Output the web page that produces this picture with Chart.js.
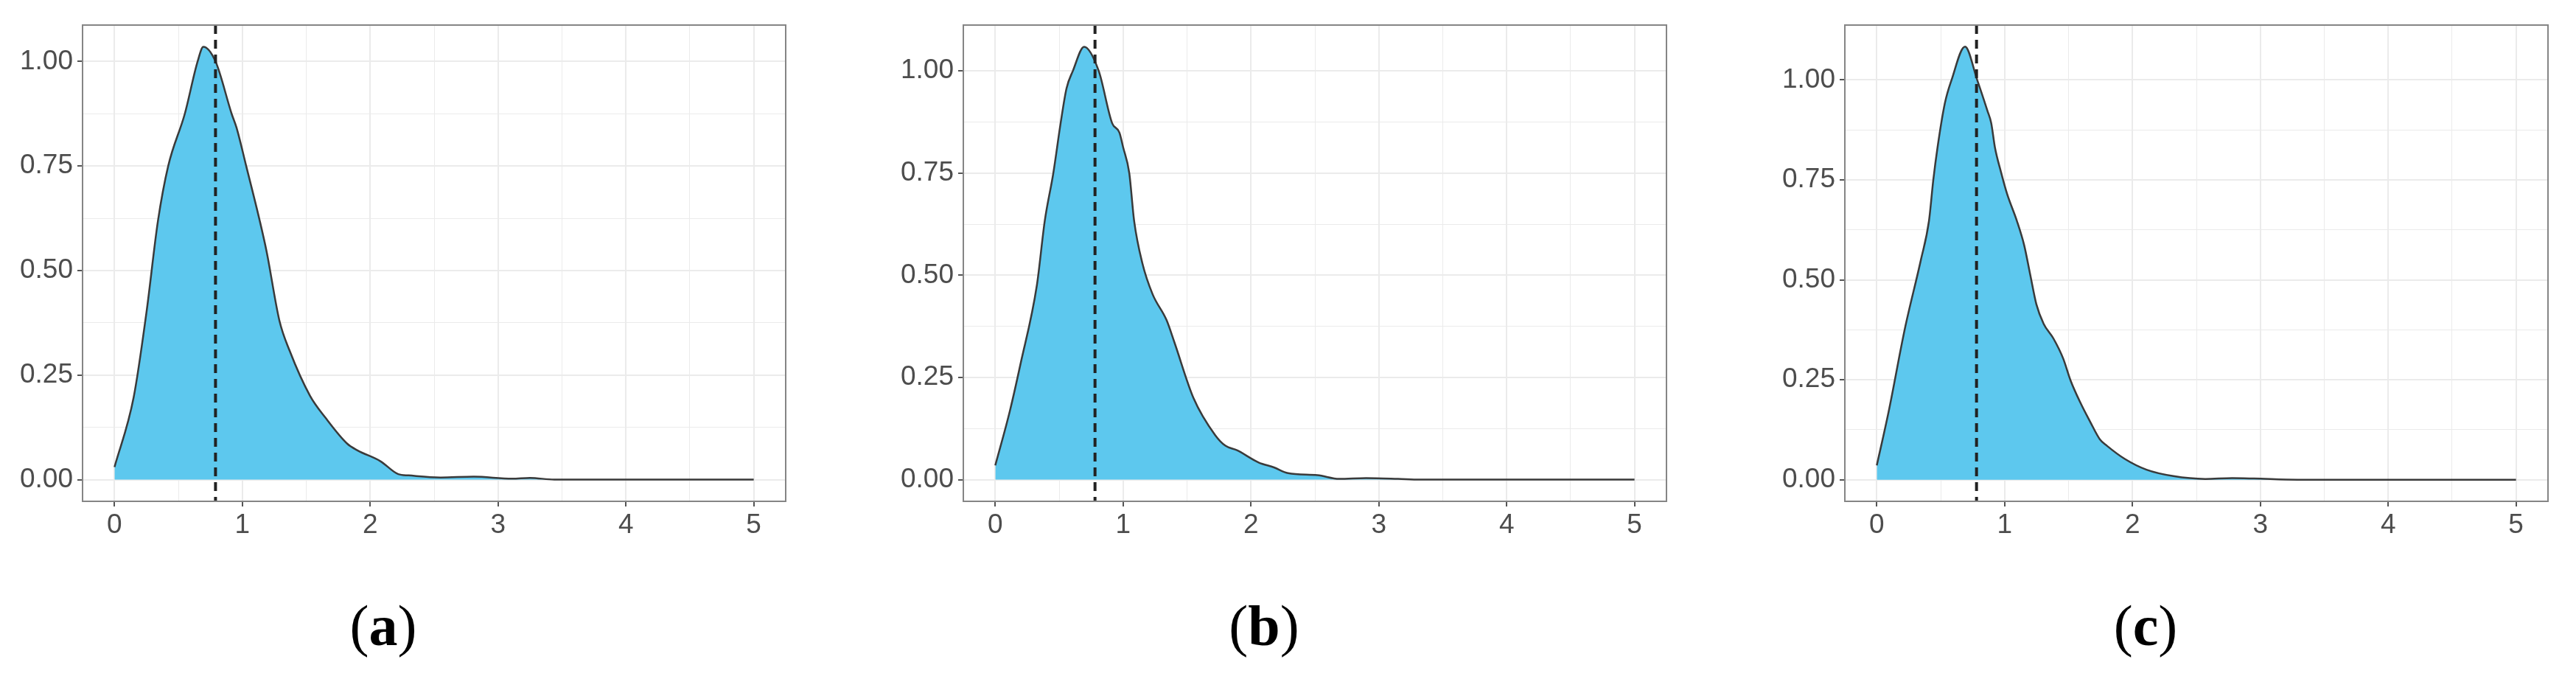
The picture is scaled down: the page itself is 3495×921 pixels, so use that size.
<!DOCTYPE html>
<html>
<head>
<meta charset="utf-8">
<script src="https://cdn.jsdelivr.net/npm/chart.js@4.4.1/dist/chart.umd.min.js"></script>
<style>
  html, body { margin: 0; padding: 0; background: #fff; }
  body { width: 3495px; height: 921px; position: relative; overflow: hidden; }
  .panel { position: absolute; top: 0; width: 1100px; height: 770px; }
  .tag { position: absolute; top: 810px; width: 200px; margin-left: -100px; text-align: center;
         font-family: 'Liberation Serif', 'DejaVu Serif', serif; font-size: 78px; line-height: 78px; color: #000; }
</style>
</head>
<body>
<div class="panel" style="left:0px"><canvas id="chart-a" width="1100" height="770"></canvas></div>
<div class="panel" style="left:1195px"><canvas id="chart-b" width="1100" height="770"></canvas></div>
<div class="panel" style="left:2391px"><canvas id="chart-c" width="1100" height="770"></canvas></div>
<div class="tag" style="left:520px">(<b>a</b>)</div>
<div class="tag" style="left:1715px">(<b>b</b>)</div>
<div class="tag" style="left:2911px">(<b>c</b>)</div>

<script>
// density curves
const densityXA = [0, 0.15, 0.25, 0.34, 0.42, 0.55, 0.65, 0.695, 0.79, 0.916, 0.954, 1.03, 1.136, 1.19, 1.29, 1.37, 1.53, 1.65, 1.82, 1.90, 2.08, 2.22, 2.30, 2.55, 2.81, 3.11, 3.25, 3.44, 5];
const densityYA = [0.030, 0.197, 0.40, 0.619, 0.750, 0.875, 1.000, 1.035, 1.000, 0.875, 0.842, 0.750, 0.619, 0.545, 0.380, 0.308, 0.200, 0.148, 0.086, 0.070, 0.044, 0.013, 0.010, 0.005, 0.007, 0.002, 0.004, 0, 0];

const densityXB = [0, 0.114, 0.198, 0.325, 0.387, 0.454, 0.511, 0.557, 0.607, 0.695, 0.809, 0.914, 0.971, 1.00, 1.048, 1.086, 1.15, 1.23, 1.34, 1.40, 1.55, 1.72, 1.80, 1.89, 2.06, 2.18, 2.29, 2.52, 2.69, 2.90, 3.15, 3.32, 5];
const densityYB = [0.035, 0.168, 0.284, 0.475, 0.633, 0.750, 0.872, 0.957, 1.000, 1.059, 1.000, 0.872, 0.849, 0.813, 0.750, 0.633, 0.530, 0.454, 0.390, 0.337, 0.200, 0.109, 0.083, 0.072, 0.042, 0.030, 0.016, 0.011, 0.002, 0.004, 0.002, 0, 0];

const densityXC = [0, 0.093, 0.219, 0.345, 0.408, 0.442, 0.475, 0.532, 0.585, 0.69, 0.785, 0.865, 0.895, 0.924, 0.971, 1.019, 1.096, 1.153, 1.20, 1.248, 1.305, 1.382, 1.458, 1.516, 1.592, 1.669, 1.745, 1.80, 1.94, 2.11, 2.32, 2.57, 2.78, 2.95, 3.29, 5];
const densityYC = [0.036, 0.171, 0.377, 0.550, 0.647, 0.750, 0.831, 0.941, 1.000, 1.083, 1.000, 0.923, 0.892, 0.831, 0.770, 0.715, 0.647, 0.586, 0.513, 0.439, 0.390, 0.353, 0.303, 0.248, 0.193, 0.145, 0.101, 0.085, 0.052, 0.025, 0.009, 0.002, 0.004, 0.003, 0, 0];

// dashed reference line position per panel
const meanLines = [0.79, 0.78, 0.78];
const panelIds = ['chart-a', 'chart-b', 'chart-c'];
const yLimits = [[-0.052, 1.087], [-0.053, 1.112], [-0.054, 1.137]];

// major + minor breaks
const xTickValues = [0, 0.5, 1, 1.5, 2, 2.5, 3, 3.5, 4, 4.5, 5];
const yTickValues = [0, 0.125, 0.25, 0.375, 0.5, 0.625, 0.75, 0.875, 1];

const tickFont = { family: "'Liberation Sans', Arial, sans-serif", size: 37 };
const gridColor = '#EBEBEB';

function isMajorX(v) { return Number.isInteger(v); }
function isMajorY(v) { return Math.abs(v * 4 - Math.round(v * 4)) < 1e-9; }

const panelFrame = {
  id: 'panelFrame',
  afterDatasetsDraw(chart, args, opts) {
    const ctx = chart.ctx;
    const area = chart.chartArea;
    const px = chart.scales.x.getPixelForValue(opts.meanX);
    ctx.save();
    ctx.strokeStyle = '#222222';
    ctx.lineWidth = 4;
    ctx.setLineDash([12, 8]);
    ctx.beginPath();
    ctx.moveTo(px, area.top);
    ctx.lineTo(px, area.bottom);
    ctx.stroke();
    ctx.setLineDash([]);
    ctx.strokeStyle = '#858585';
    ctx.lineWidth = 2;
    ctx.strokeRect(area.left, area.top, area.right - area.left, area.bottom - area.top);
    ctx.restore();
  }
};

function buildPanel(canvasId, xs, ys, meanX, limits) {
  const points = xs.map((x, i) => ({ x: x, y: ys[i] }));
  return new Chart(document.getElementById(canvasId), {
    type: 'line',
    data: {
      datasets: [{
        data: points,
        borderColor: '#3a3a3a',
        borderWidth: 2.5,
        backgroundColor: '#5DC8EE',
        fill: 'origin',
        pointRadius: 0,
        cubicInterpolationMode: 'monotone'
      }]
    },
    options: {
      responsive: false,
      animation: false,
      layout: { padding: { top: 34, right: 34, bottom: 30, left: 0 } },
      plugins: {
        legend: { display: false },
        tooltip: { enabled: false },
        panelFrame: { meanX: meanX }
      },
      scales: {
        x: {
          type: 'linear',
          min: -0.25,
          max: 5.25,
          afterBuildTicks: scale => { scale.ticks = xTickValues.map(v => ({ value: v })); },
          afterFit: scale => { scale.height = 60; },
          border: { display: false },
          grid: {
            color: gridColor,
            lineWidth: ctx => isMajorX(ctx.tick.value) ? 2 : 1,
            tickLength: 7,
            tickWidth: 2,
            tickColor: ctx => isMajorX(ctx.tick.value) ? '#555555' : 'rgba(0,0,0,0)'
          },
          ticks: {
            font: tickFont,
            color: '#4D4D4D',
            padding: 4,
            autoSkip: false,
            maxRotation: 0,
            callback: v => isMajorX(v) ? String(v) : ''
          }
        },
        y: {
          type: 'linear',
          min: limits[0],
          max: limits[1],
          afterBuildTicks: scale => { scale.ticks = yTickValues.map(v => ({ value: v })); },
          afterFit: scale => { scale.width = 112; },
          border: { display: false },
          grid: {
            color: gridColor,
            lineWidth: ctx => isMajorY(ctx.tick.value) ? 2 : 1,
            tickLength: 7,
            tickWidth: 2,
            tickColor: ctx => isMajorY(ctx.tick.value) ? '#555555' : 'rgba(0,0,0,0)'
          },
          ticks: {
            font: tickFont,
            color: '#4D4D4D',
            padding: 6,
            autoSkip: false,
            callback: v => isMajorY(v) ? v.toFixed(2) : ''
          }
        }
      }
    },
    plugins: [panelFrame]
  });
}

buildPanel(panelIds[0], densityXA, densityYA, meanLines[0], yLimits[0]);
buildPanel(panelIds[1], densityXB, densityYB, meanLines[1], yLimits[1]);
buildPanel(panelIds[2], densityXC, densityYC, meanLines[2], yLimits[2]);
</script>
</body>
</html>
